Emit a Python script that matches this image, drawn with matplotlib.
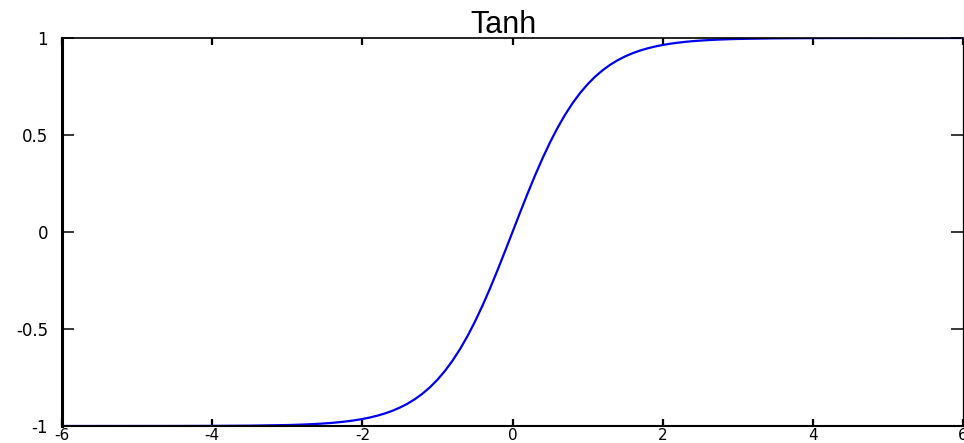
import matplotlib
matplotlib.use("Agg")
import matplotlib.pyplot as plt

# Sampled hyperbolic tangent curve (dense near the origin, sparse in the flat tails)
x_vals = [-6.0, -5.5, -5.0, -4.5, -4.0, -3.5,
          -3.0, -2.9, -2.8, -2.7, -2.6, -2.5, -2.4, -2.3, -2.2, -2.1,
          -2.0, -1.9, -1.8, -1.7, -1.6, -1.5, -1.4, -1.3, -1.2, -1.1,
          -1.0, -0.9, -0.8, -0.7, -0.6, -0.5, -0.4, -0.3, -0.2, -0.1,
          0.0,
          0.1, 0.2, 0.3, 0.4, 0.5, 0.6, 0.7, 0.8, 0.9, 1.0,
          1.1, 1.2, 1.3, 1.4, 1.5, 1.6, 1.7, 1.8, 1.9, 2.0,
          2.1, 2.2, 2.3, 2.4, 2.5, 2.6, 2.7, 2.8, 2.9, 3.0,
          3.5, 4.0, 4.5, 5.0, 5.5, 6.0]
y_vals = [-1.0, -1.0, -0.9999, -0.9998, -0.9993, -0.9982,
          -0.9951, -0.9940, -0.9926, -0.9910, -0.9890, -0.9866, -0.9837, -0.9801, -0.9757, -0.9705,
          -0.9640, -0.9562, -0.9468, -0.9354, -0.9217, -0.9051, -0.8854, -0.8617, -0.8337, -0.8005,
          -0.7616, -0.7163, -0.6640, -0.6044, -0.5370, -0.4621, -0.3799, -0.2913, -0.1974, -0.0997,
          0.0,
          0.0997, 0.1974, 0.2913, 0.3799, 0.4621, 0.5370, 0.6044, 0.6640, 0.7163, 0.7616,
          0.8005, 0.8337, 0.8617, 0.8854, 0.9051, 0.9217, 0.9354, 0.9468, 0.9562, 0.9640,
          0.9705, 0.9757, 0.9801, 0.9837, 0.9866, 0.9890, 0.9910, 0.9926, 0.9940, 0.9951,
          0.9982, 0.9993, 0.9998, 0.9999, 1.0, 1.0]

x_ticks = [-6, -4, -2, 0, 2, 4, 6]
x_ticklabels = ["-6", "-4", "-2", "0", "2", "4", "6"]
y_ticks = [-1, -0.5, 0, 0.5, 1]
y_ticklabels = ["-1", "-0.5", "0", "0.5", "1"]
title = "Tanh"

plt.rcParams["font.family"] = ["Liberation Sans", "DejaVu Sans"]

fig = plt.figure(figsize=(9.64, 4.43), dpi=100)
ax = fig.add_axes([62 / 964, 17 / 443, 901 / 964, 388 / 443])

ax.plot(x_vals, y_vals, color="#0000f0", linewidth=1.6,
        solid_joinstyle="round")

ax.set_xlim(-6, 6)
ax.set_ylim(-1, 1)
ax.set_xticks(x_ticks)
ax.set_yticks(y_ticks)
ax.set_xticklabels(x_ticklabels, fontdict=dict(family=["DejaVu Sans"], size=11))
ax.set_yticklabels(y_ticklabels, fontdict=dict(family=["DejaVu Sans"], size=12))

ax.tick_params(axis="x", direction="in", length=5.2, width=1.6, top=True,
               pad=1.2)
ax.tick_params(axis="y", direction="in", length=8.6, width=1.1, right=True,
               pad=10)

ax.spines["left"].set_linewidth(2.2)
ax.spines["bottom"].set_linewidth(1.5)
ax.spines["top"].set_linewidth(1.2)
ax.spines["right"].set_linewidth(0.9)

ax.set_title(title, fontsize=22, pad=3.6, x=(503.5 - 62) / 901)

fig.savefig("out.png", dpi=100, facecolor="white")
